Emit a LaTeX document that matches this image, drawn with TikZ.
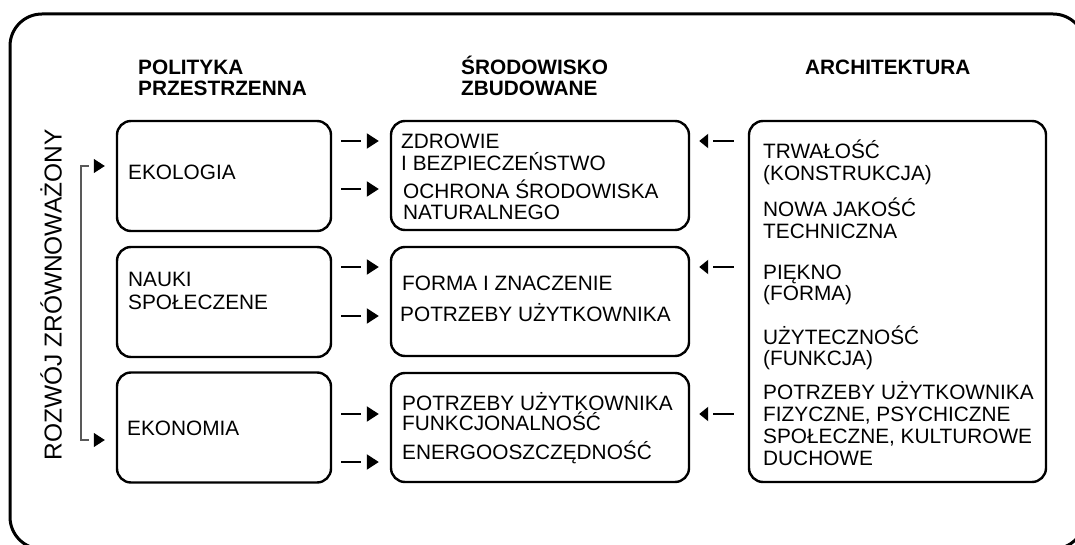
\documentclass[tikz,border=0pt]{standalone}
\usepackage{fontspec}
\setmainfont{Liberation Sans}
\usetikzlibrary{arrows.meta}
\tikzset{
  frame/.style={line width=3pt, rounded corners=32pt},
  box/.style={draw, rounded corners=14pt, line width=2.4pt, minimum width=214pt, minimum height=110pt},
  midbox/.style={box, minimum width=298pt, minimum height=109pt},
  txt/.style={anchor=base west, align=left, inner sep=0pt, font=\fontsize{20.8}{22}\selectfont},
  head/.style={txt, font=\bfseries\fontsize{20.8}{21}\selectfont},
  side/.style={font=\fontsize{24.5}{26}\selectfont, rotate=90},
  % line and tip are kept apart by a small gap
  arrow/.style={line width=2pt, shorten <=9pt, shorten >=29pt,
    postaction={draw, -{Triangle[length=12pt,width=15pt]}, shorten <=37pt, shorten >=11pt}},
  backarrow/.style={line width=2pt, shorten <=14pt, shorten >=23pt,
    postaction={draw, -{Triangle[length=9pt,width=14pt]}, shorten <=42pt, shorten >=9pt}},
  brline/.style={line width=1.2pt, draw=black!65, shorten <=27pt, shorten >=27pt},
  brtip/.style={-{Triangle[length=11pt,width=14pt]}, line width=1pt, shorten <=14pt, shorten >=11pt}
}
\begin{document}
\begin{tikzpicture}[x=1pt,y=-1pt]
  \useasboundingbox (0,0) rectangle (1075,545);
  \draw[frame] (10,14) rectangle (1085,549);

  % column headers
  \node[head] (hpol) at (138,96) {POLITYKA\\PRZESTRZENNA};
  \node[head] (hsro) at (461,96) {ŚRODOWISKO\\ZBUDOWANE};
  \node[head] (harc) at (805,75) {ARCHITEKTURA};

  % left column
  \node[box] (ekol) at (224,176) {};
  \node[box] (nauk) at (224,302) {};
  \node[box] (ekon) at (224,427.5) {};
  \node[txt] (tekol) at (128,180) {EKOLOGIA};
  \node[txt,font=\fontsize{20.8}{23}\selectfont] (tnauk) at (128,309) {NAUKI\\SPOŁECZENE};
  \node[txt] (tekon) at (127,435) {EKONOMIA};

  % middle column
  \node[midbox] (zdr) at (540,175.5) {};
  \node[midbox] (for) at (540,301.5) {};
  \node[midbox] (pot) at (540,427.5) {};
  \node[txt] (tzdr) at (401,171) {ZDROWIE\\I BEZPIECZEŃSTWO};
  \node[txt,font=\fontsize{20.8}{21}\selectfont] (toch) at (403,220) {OCHRONA ŚRODOWISKA\\NATURALNEGO};
  \node[txt] (tfor) at (402,290) {FORMA I ZNACZENIE};
  \node[txt] (tpotu) at (400,321) {POTRZEBY UŻYTKOWNIKA};
  \node[txt,font=\fontsize{20.8}{20}\selectfont] (tpotf) at (402,430) {POTRZEBY UŻYTKOWNIKA\\FUNKCJONALNOŚĆ};
  \node[txt] (tene) at (402,459) {ENERGOOSZCZĘDNOŚĆ};

  % right column
  \node[box, minimum width=297pt, minimum height=361pt] (arch) at (897.5,301.5) {};
  \node[txt] (ttrw) at (763,181) {TRWAŁOŚĆ\\(KONSTRUKCJA)};
  \node[txt] (tnow) at (763,239) {NOWA JAKOŚĆ\\TECHNICZNA};
  \node[txt,font=\fontsize{20.8}{21}\selectfont] (tpie) at (763,300) {PIĘKNO\\(FORMA)};
  \node[txt,font=\fontsize{20.8}{21}\selectfont] (tuzy) at (763,365) {UŻYTECZNOŚĆ\\(FUNKCJA)};
  \node[txt,font=\fontsize{20.8}{21.7}\selectfont] (tpotr) at (763,465) {POTRZEBY UŻYTKOWNIKA\\FIZYCZNE, PSYCHICZNE\\SPOŁECZNE, KULTUROWE\\DUCHOWE};

  % side label
  \node[side] (rozw) at (51,295) {ROZWÓJ ZRÓWNOWAŻONY};
  \draw[brline] (ekol.west |- 0,166) -- (81,166) -- (81,440) -- (ekon.west |- 0,440);
  \draw[brtip] (81,166) -- (ekol.west |- 0,166);
  \draw[brtip] (81,440) -- (ekon.west |- 0,440);

  \draw[arrow] (ekol.east |- 0,141) -- (zdr.west |- 0,141);
  \draw[arrow] (ekol.east |- 0,189) -- (zdr.west |- 0,189);
  \draw[arrow] (nauk.east |- 0,267) -- (for.west |- 0,267);
  \draw[arrow] (nauk.east |- 0,316) -- (for.west |- 0,316);
  \draw[arrow] (ekon.east |- 0,414) -- (pot.west |- 0,414);
  \draw[arrow] (ekon.east |- 0,462) -- (pot.west |- 0,462);

  \draw[backarrow] (arch.west |- 0,141) -- (zdr.east |- 0,141);
  \draw[backarrow] (arch.west |- 0,267) -- (for.east |- 0,267);
  \draw[backarrow] (arch.west |- 0,414) -- (pot.east |- 0,414);
\end{tikzpicture}
\end{document}
